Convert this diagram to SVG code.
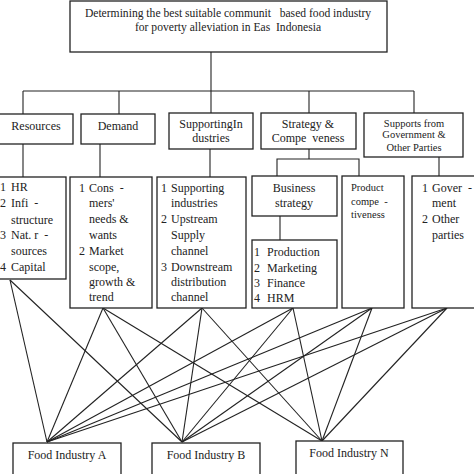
<svg xmlns="http://www.w3.org/2000/svg" width="474" height="474" viewBox="0 0 474 474">
<style>
.b{fill:#fff;stroke:#222;stroke-width:1.3}
.t{font-size:12px;fill:#222;white-space:pre}
.s{font-size:10.5px}
.m{text-anchor:middle}
.c line,.c polyline{stroke:#222;stroke-width:1.1;fill:none}
</style>
<rect width="474" height="474" fill="#fff"/>
<g class="c" id="connectors">
<polyline points="211,52 211,91"/>
<line x1="23" y1="91" x2="414" y2="91"/>
<line x1="23" y1="91" x2="23" y2="114"/>
<line x1="119" y1="91" x2="119" y2="114"/>
<line x1="211" y1="91" x2="211" y2="113"/>
<line x1="309" y1="91" x2="309" y2="113"/>
<line x1="414" y1="91" x2="414" y2="113"/>
<line x1="23" y1="144" x2="23" y2="177"/>
<line x1="100" y1="144" x2="100" y2="177"/>
<line x1="210" y1="149" x2="210" y2="177"/>
<polyline points="309,149 309,159"/>
<polyline points="277,176 277,159 359,159 359,176"/>
<line x1="280" y1="216" x2="280" y2="240"/>
<line x1="439" y1="157" x2="439" y2="176"/>
<line x1="10" y1="280" x2="47" y2="442"/>
<line x1="10" y1="280" x2="182" y2="442"/>
<line x1="103" y1="308" x2="47" y2="442"/>
<line x1="103" y1="308" x2="182" y2="442"/>
<line x1="103" y1="308" x2="322" y2="441"/>
<line x1="202" y1="308" x2="47" y2="442"/>
<line x1="202" y1="308" x2="182" y2="442"/>
<line x1="202" y1="308" x2="322" y2="441"/>
<line x1="293" y1="308" x2="47" y2="442"/>
<line x1="293" y1="308" x2="182" y2="442"/>
<line x1="293" y1="308" x2="322" y2="441"/>
<line x1="372" y1="308" x2="47" y2="442"/>
<line x1="372" y1="308" x2="182" y2="442"/>
<line x1="372" y1="308" x2="322" y2="441"/>
<line x1="447" y1="308" x2="47" y2="442"/>
<line x1="447" y1="308" x2="182" y2="442"/>
<line x1="447" y1="308" x2="322" y2="441"/>
</g>
<g font-family="Liberation Serif, Times New Roman, serif">
<g id="goal">
<rect class="b" x="70" y="1" width="317" height="51"/>
<text class="t m" x="228" y="17" style="font-size:11.6px">Determining the best suitable communit   based food industry</text>
<text class="t m" x="228" y="31" style="font-size:11.6px">for poverty alleviation in Eas  Indonesia</text>
</g>
<g id="resources">
<rect class="b" x="-2" y="114" width="75" height="30"/>
<text class="t m" x="36" y="130">Resources</text>
</g>
<g id="demand">
<rect class="b" x="81" y="114" width="74" height="30"/>
<text class="t m" x="118" y="130">Demand</text>
</g>
<g id="supporting">
<rect class="b" x="169" y="113" width="84" height="36"/>
<text class="t m" x="211" y="128">SupportingIn</text>
<text class="t m" x="211" y="142">dustries</text>
</g>
<g id="strategy">
<rect class="b" x="261" y="113" width="95" height="36"/>
<text class="t m" x="308" y="128">Strategy &amp;</text>
<text class="t m" x="308" y="142">Compe  veness</text>
</g>
<g id="supports">
<rect class="b" x="364" y="113" width="99" height="44"/>
<text class="t s m" x="414" y="127">Supports from</text>
<text class="t s m" x="414" y="138">Government &amp;</text>
<text class="t s m" x="414" y="151">Other Parties</text>
</g>
<g id="resources-list">
<rect class="b" x="-2" y="177" width="68" height="102"/>
<text class="t" x="0" y="191">1</text><text class="t" x="11" y="191">HR</text>
<text class="t" x="0" y="207">2</text><text class="t" x="11" y="207">Infi  -</text>
<text class="t" x="11" y="224">structure</text>
<text class="t" x="0" y="239">3</text><text class="t" x="11" y="239">Nat. r  -</text>
<text class="t" x="11" y="255">sources</text>
<text class="t" x="0" y="271">4</text><text class="t" x="11" y="271">Capital</text>
</g>
<g id="demand-list">
<rect class="b" x="70" y="177" width="82" height="131"/>
<text class="t" x="79" y="192">1</text><text class="t" x="89" y="192">Cons  -</text>
<text class="t" x="89" y="207">mers'</text>
<text class="t" x="89" y="223">needs &amp;</text>
<text class="t" x="89" y="239">wants</text>
<text class="t" x="79" y="255">2</text><text class="t" x="89" y="255">Market</text>
<text class="t" x="89" y="271">scope,</text>
<text class="t" x="89" y="286">growth &amp;</text>
<text class="t" x="89" y="301">trend</text>
</g>
<g id="supporting-list">
<rect class="b" x="157" y="177" width="89" height="131"/>
<text class="t" x="161" y="192">1</text><text class="t" x="171" y="192">Supporting</text>
<text class="t" x="171" y="207">industries</text>
<text class="t" x="161" y="223">2</text><text class="t" x="171" y="223">Upstream</text>
<text class="t" x="171" y="239">Supply</text>
<text class="t" x="171" y="255">channel</text>
<text class="t" x="161" y="271">3</text><text class="t" x="171" y="271">Downstream</text>
<text class="t" x="171" y="286">distribution</text>
<text class="t" x="171" y="301">channel</text>
</g>
<g id="business">
<rect class="b" x="252" y="176" width="85" height="40"/>
<text class="t m" x="294" y="192">Business</text>
<text class="t m" x="294" y="207">strategy</text>
</g>
<g id="business-list">
<rect class="b" x="252" y="240" width="85" height="68"/>
<text class="t" x="254" y="256">1</text><text class="t" x="267" y="256">Production</text>
<text class="t" x="254" y="272">2</text><text class="t" x="267" y="272">Marketing</text>
<text class="t" x="254" y="287">3</text><text class="t" x="267" y="287">Finance</text>
<text class="t" x="254" y="302">4</text><text class="t" x="267" y="302">HRM</text>
</g>
<g id="product">
<rect class="b" x="342" y="176" width="62" height="132"/>
<text class="t s" x="351" y="191">Product</text>
<text class="t s" x="351" y="205">compe  -</text>
<text class="t s" x="351" y="218">tiveness</text>
</g>
<g id="gov-list">
<rect class="b" x="412" y="176" width="64" height="132"/>
<text class="t" x="422" y="192">1</text><text class="t" x="432" y="192">Gover  -</text>
<text class="t" x="432" y="207">ment</text>
<text class="t" x="422" y="223">2</text><text class="t" x="432" y="223">Other</text>
<text class="t" x="432" y="239">parties</text>
</g>
<g id="food-a">
<rect class="b" x="13" y="443" width="108" height="32"/>
<text class="t m" x="67" y="459">Food Industry A</text>
</g>
<g id="food-b">
<rect class="b" x="152" y="443" width="108" height="32"/>
<text class="t m" x="206" y="459">Food Industry B</text>
</g>
<g id="food-n">
<rect class="b" x="296" y="441" width="107" height="34"/>
<text class="t m" x="349" y="457">Food Industry N</text>
</g>
</g>
</svg>
